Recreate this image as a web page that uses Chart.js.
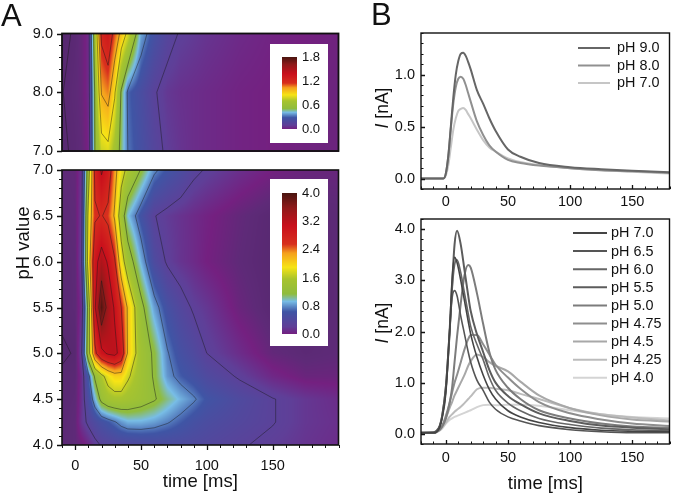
<!DOCTYPE html>
<html><head><meta charset="utf-8">
<script src="https://cdn.jsdelivr.net/npm/chart.js@4"></script>
<style>
html,body{margin:0;padding:0;background:#fff;width:673px;height:496px;overflow:hidden}
canvas{position:absolute}
.t{position:absolute;font-family:"Liberation Sans",Arial,sans-serif;color:#111;white-space:nowrap;z-index:5}
</style></head><body>
<div class="t" style="left:1px;top:-2px;font-size:31px">A</div>
<div class="t" style="left:371px;top:-3px;font-size:31px">B</div>
<div class="t" style="left:23px;top:243px;font-size:18.5px;transform:translate(-50%,-50%) rotate(-90deg)">pH value</div>
<div class="t" style="left:382px;top:108px;font-size:17.5px;transform:translate(-50%,-50%) rotate(-90deg)"><i>I</i> [nA]</div>
<div class="t" style="left:382px;top:323px;font-size:17.5px;transform:translate(-50%,-50%) rotate(-90deg)"><i>I</i> [nA]</div>
<canvas id="cA1" style="left:0;top:23px;width:345px;height:140px"></canvas>
<canvas id="cA2" style="left:0;top:160px;width:345px;height:336px"></canvas>
<canvas id="cB1" style="left:360px;top:23px;width:313px;height:190px"></canvas>
<canvas id="cB2" style="left:360px;top:209px;width:313px;height:287px"></canvas>
<script>
// ---------- heat map data ----------
const heatTimes=[-10,0,5,10,15,20,25,30,35,40,50,60,70,80,90,100,125,150,175,200];
const phUpper=[7.0,8.0,9.0];
const upper70=[.01,.03,.05,.10,.60,.82,.85,.72,.55,.40,.32,.24,.18,.15,.13,.12,.10,.09,.08,.07];
const upper80=[.018,.04,.06,.12,.62,1.05,1.10,.91,.58,.38,.30,.21,.16,.14,.13,.12,.10,.09,.08,.07];
const upper90=[0,.03,.06,.12,.72,1.25,1.34,1.15,1.00,.85,.46,.33,.24,.19,.17,.15,.12,.10,.09,.08];
const phLower=[4.0,4.25,4.5,4.75,5.0,5.5,6.0,6.5,7.0];
const lower400=[.07,.10,.15,.25,.38,.47,.50,.53,.55,.55,.58,.60,.60,.60,.58,.55,.47,.40,.33,.28];
const lower425=[.06,.10,.35,.50,.62,.72,.80,.88,.98,1.05,1.05,1.00,.92,.82,.72,.65,.55,.46,.35,.30];
const lower450=[.05,.08,.32,.65,1.05,1.45,1.60,1.65,1.65,1.60,1.50,1.38,1.20,1.05,.93,.78,.60,.46,.35,.28];
const lower475=[.04,.06,.30,.80,1.40,1.70,1.95,2.10,2.10,1.85,1.55,1.32,.98,.82,.72,.60,.42,.25,.15,.15];
const lower500=[.00,.03,.45,1.60,2.60,3.05,3.20,3.25,3.00,2.20,1.55,1.30,.92,.72,.60,.45,.28,.12,.07,.10];
const lower550=[.05,.08,.30,1.50,3.10,3.95,3.45,3.10,2.70,2.20,1.45,1.00,.72,.55,.42,.35,.15,.04,.04,.08];
const lower600=[.06,.08,.45,2.00,3.00,3.35,3.10,2.75,2.00,1.55,1.05,.62,.42,.33,.27,.20,.10,.03,.05,.08];
const lower650=[.08,.10,.40,1.90,2.65,2.72,2.60,2.20,1.55,1.10,.75,.46,.38,.32,.27,.22,.12,.04,.06,.08];
const lower700=[.10,.12,.35,1.60,2.80,3.20,2.95,2.40,1.95,1.70,1.33,.95,.78,.65,.50,.43,.30,.20,.15,.14];
const upperGrid=[upper70,upper80,upper90];
const lowerGrid=[lower400,lower425,lower450,lower475,lower500,lower550,lower600,lower650,lower700];
const upperLevels=[.02,.2,.4,.6,.89,1.04,1.21];
const lowerLevels=[.02,.45,.9,1.35,1.8,2.25,2.7,3.15,3.6];
const upperBarTicks=[0,.6,1.2,1.8];
const lowerBarTicks=[0,.8,1.6,2.4,3.2,4.0];
const cmapStops=[0,.025,.05,.10,.20,.27,.32,.42,.50,.595,.655,.78,.90,1];
const cmapColors=['#55286e','#5e2a78','#742080','#5f3f98','#3f55a5','#78bde6','#8fbc3e','#a8c42e','#f7e416','#f5a01e','#d8301e','#c9101c','#8f1a1a','#4a1510'];
// ---------- trace data ----------
const traceTimesTop=[-20,-5,-2,0,2,4,6,8,10,12,14,16,18,20,25,30,35,40,50,60,75,100,125,150,180];
const ph90=[0,0,0,.05,.22,.50,.78,1.00,1.13,1.20,1.21,1.18,1.12,1.05,.85,.72,.58,.46,.28,.21,.15,.11,.09,.075,.06];
const ph80=[0,0,0,.05,.22,.48,.72,.88,.96,.98,.96,.90,.82,.74,.55,.42,.32,.26,.18,.15,.125,.10,.08,.07,.055];
const ph70t=[0,0,0,.03,.13,.30,.47,.58,.65,.67,.68,.66,.62,.58,.47,.37,.30,.26,.195,.16,.13,.10,.08,.065,.05];
const topLabels=['pH 9.0','pH 8.0','pH 7.0'];
const topColors=['#666666','#909090','#c6c6c6'];
const traceTimes=[-20,-10,-8,-5,-3,0,3,5,7,9,12,15,18,20,25,30,35,40,50,60,75,100,125,150,180];
const t700=[.02,.02,.03,.12,.30,.80,2.00,3.00,3.45,3.35,3.00,2.60,2.20,1.95,1.50,1.15,.87,.68,.45,.33,.22,.12,.07,.05,.04];
const t650=[.02,.02,.03,.15,.35,.95,2.00,2.65,2.80,2.70,2.30,1.95,1.60,1.40,1.05,.85,.62,.48,.33,.25,.16,.08,.04,.02,.02];
const t600=[.02,.02,.04,.14,.32,.85,1.90,2.80,3.30,3.40,3.15,2.75,2.35,2.10,1.75,1.45,1.10,.85,.60,.45,.30,.18,.11,.08,.06];
const t550=[.02,.03,.05,.15,.35,.90,2.00,2.90,3.70,3.97,3.70,3.20,2.70,2.40,1.95,1.60,1.25,1.00,.74,.58,.40,.25,.16,.12,.09];
const t500=[.02,.02,.03,.08,.14,.30,.60,.90,1.40,1.90,2.55,3.10,3.30,3.25,2.75,2.15,1.60,1.25,.90,.68,.46,.30,.20,.14,.12];
const t475=[.02,.02,.03,.08,.15,.35,.60,.80,1.00,1.15,1.40,1.65,1.85,1.93,1.93,1.75,1.55,1.35,1.10,.88,.62,.40,.28,.20,.15];
const t450=[.02,.02,.03,.08,.14,.30,.50,.62,.75,.85,1.00,1.15,1.33,1.42,1.55,1.50,1.40,1.33,1.22,1.02,.75,.50,.36,.28,.24];
const t425=[.02,.02,.03,.07,.12,.22,.33,.38,.43,.47,.53,.60,.68,.73,.87,.90,.90,.88,.85,.78,.68,.50,.38,.32,.26];
const t400=[.02,.02,.03,.06,.10,.20,.27,.30,.33,.35,.38,.41,.44,.46,.52,.56,.57,.56,.57,.57,.55,.46,.38,.33,.30];
const lowLabels=['pH 7.0','pH 6.5','pH 6.0','pH 5.5','pH 5.0','pH 4.75','pH 4.5','pH 4.25','pH 4.0'];
const lowColors=['#444444','#555555','#666666','#5c5c5c','#7c7c7c','#8e8e8e','#a8a8a8','#bcbcbc','#d4d4d4'];
const lowWidths=[1.6,1.6,1.6,2,2,2,2,2,2];
// ---------- tick values ----------
const xTicksA=[0,50,100,150], xTicksB=[0,50,100,150];
const yTicksA1=[7,8,9], yTicksA2=[4,4.5,5,5.5,6,6.5,7];
const yTicksB1=[0,.5,1], yTicksB2=[0,1,2,3,4];

const FONT='"Liberation Sans",Arial,sans-serif';
Chart.defaults.font.family=FONT;
Chart.defaults.color='#111';
Chart.defaults.animation=false;
Chart.defaults.responsive=false;

function hex(c){return [1,3,5].map(i=>parseInt(c.substr(i,2),16));}
const cmapRGB=cmapColors.map(hex);
function cmap(n){
  n=Math.max(0,Math.min(1,n));
  let i=0; while(i<cmapStops.length-2&&n>cmapStops[i+1])i++;
  const f=(n-cmapStops[i])/(cmapStops[i+1]-cmapStops[i]);
  return cmapRGB[i].map((v,k)=>v+(cmapRGB[i+1][k]-v)*f);
}
function findCell(arr,v){let i=0;while(i<arr.length-2&&v>arr[i+1])i++;return i;}
function sample(grid,ys,x,y){
  const i=findCell(heatTimes,x), j=findCell(ys,y);
  const fx=Math.max(0,Math.min(1,(x-heatTimes[i])/(heatTimes[i+1]-heatTimes[i])));
  const fy=Math.max(0,Math.min(1,(y-ys[j])/(ys[j+1]-ys[j])));
  return (grid[j][i]*(1-fx)+grid[j][i+1]*fx)*(1-fy)+(grid[j+1][i]*(1-fx)+grid[j+1][i+1]*fx)*fy;
}
function heatPlugin(grid,ys,levels,vmax,bar,barTicks){return {id:'heat',beforeDatasetsDraw(chart){
  const {ctx,chartArea:a,scales:{x:sx,y:sy}}=chart;
  const w=Math.round(a.right-a.left),h=Math.round(a.bottom-a.top);
  const off=document.createElement('canvas');off.width=w;off.height=h;
  const oc=off.getContext('2d'),im=oc.createImageData(w,h);
  for(let py=0;py<h;py++){const vy=sy.getValueForPixel(a.top+py+.5);
    for(let px=0;px<w;px++){const vx=sx.getValueForPixel(a.left+px+.5);
      const c=cmap(sample(grid,ys,vx,vy)/vmax),o=(py*w+px)*4;
      im.data[o]=c[0];im.data[o+1]=c[1];im.data[o+2]=c[2];im.data[o+3]=255;}}
  oc.putImageData(im,0,0);
  ctx.save();ctx.drawImage(off,a.left,a.top);
  ctx.beginPath();ctx.rect(a.left,a.top,w,h);ctx.clip();
  ctx.strokeStyle='rgba(25,25,25,.75)';ctx.lineWidth=.6;
  for(const L of levels){ctx.beginPath();
    for(let j=0;j<ys.length-1;j++)for(let i=0;i<heatTimes.length-1;i++){
      const x0=heatTimes[i],x1=heatTimes[i+1],y0=ys[j],y1=ys[j+1];
      const v=[grid[j][i],grid[j][i+1],grid[j+1][i+1],grid[j+1][i]];
      const c=[[x0,y0],[x1,y0],[x1,y1],[x0,y1]],pts=[];
      for(let e=0;e<4;e++){const A=v[e],B=v[(e+1)%4];
        if((A<L)!==(B<L)){const f=(L-A)/(B-A),P=c[e],Q=c[(e+1)%4];
          pts.push([sx.getPixelForValue(P[0]+(Q[0]-P[0])*f),sy.getPixelForValue(P[1]+(Q[1]-P[1])*f)]);}}
      for(let k=0;k+1<pts.length;k+=2){ctx.moveTo(pts[k][0],pts[k][1]);ctx.lineTo(pts[k+1][0],pts[k+1][1]);}
    }
    ctx.stroke();}
  ctx.restore();
  // colour key
  ctx.save();ctx.fillStyle='#fff';ctx.fillRect(bar.bx,bar.by,bar.bw,bar.bh);
  for(let y=bar.top;y<bar.bottom;y++){const c=cmap(.05+.95*(bar.bottom-y-.5)/(bar.bottom-bar.top));
    ctx.fillStyle=`rgb(${c[0]|0},${c[1]|0},${c[2]|0})`;ctx.fillRect(bar.left,y,bar.width,1);}
  ctx.fillStyle='#111';ctx.font='13px '+FONT;ctx.textAlign='left';ctx.textBaseline='middle';
  for(const v of barTicks){const y=bar.bottom-(bar.bottom-bar.top)*v/vmax;
    ctx.fillText(v.toFixed(1),bar.left+bar.width+5,y+.5);}
  ctx.restore();
}};}
function framePlugin(o){return {id:'frame',afterDatasetsDraw(chart){
  const {ctx,chartArea:a,scales:{x:sx,y:sy}}=chart;
  ctx.save();ctx.strokeStyle='#111';
  const d=o.inward?1:-1;
  function yt(v,l){const p=Math.round(sy.getPixelForValue(v))+.5;ctx.moveTo(a.left,p);ctx.lineTo(a.left+d*l,p);}
  function xt(v,l){const p=Math.round(sx.getPixelForValue(v))+.5;ctx.moveTo(p,a.bottom);ctx.lineTo(p,a.bottom-d*l);}
  ctx.lineWidth=1;ctx.beginPath();
  for(let v=sy.min;v<=sy.max+1e-6;v+=o.yMinor)yt(v,o.minorLen);
  if(o.xMinor)for(let v=Math.ceil(sx.min/o.xMinor)*o.xMinor;v<=sx.max+1e-6;v+=o.xMinor)xt(v,o.minorLen);
  ctx.stroke();
  ctx.lineWidth=1.3;ctx.beginPath();
  o.yMajor.forEach(v=>yt(v,o.majorLen));
  if(o.xMajor)o.xMajor.forEach(v=>xt(v,o.majorLen));
  ctx.stroke();
  ctx.lineWidth=o.frame;ctx.strokeRect(a.left,a.top,a.right-a.left,a.bottom-a.top);
  if(o.legend){ctx.font='14.4px '+FONT;ctx.textBaseline='middle';ctx.textAlign='left';
    chart.data.datasets.forEach((ds,i)=>{const y=o.legend.y+i*o.legend.dy;
      ctx.strokeStyle=ds.borderColor;ctx.lineWidth=2;ctx.beginPath();ctx.moveTo(o.legend.x0,y);ctx.lineTo(o.legend.x1,y);ctx.stroke();
      ctx.fillStyle='#111';ctx.fillText(ds.label,o.legend.tx,y+.5);});}
  ctx.restore();
}};}
function axis(o){
  return {type:'linear',min:o.min,max:o.max,display:o.display!==false,
    grid:{display:false,drawTicks:false,tickLength:0},border:{display:false},
    title:o.title?{display:true,text:o.title,color:'#111',font:{size:18.5},padding:o.titlePad}:{display:false},
    afterBuildTicks(s){s.ticks=o.ticks.map(v=>({value:v}));},
    afterFit(s){if(o.w)s.width=o.w;if(o.h)s.height=o.h;s.paddingTop=s.paddingBottom=s.paddingLeft=s.paddingRight=0;},
    ticks:{autoSkip:false,maxRotation:0,padding:o.pad,color:'#111',font:{size:14.5},callback:v=>o.fmt?v.toFixed(1):String(v)}};
}
function pairs(xs,ys){return xs.map((x,i)=>({x,y:ys[i]}));}
function make(id,w,h,datasets,x,y,padding,plugins){
  const c=document.getElementById(id);c.width=w;c.height=h;
  return new Chart(c,{type:'scatter',data:{datasets},options:{layout:{padding},
    plugins:{legend:{display:false},title:{display:false},tooltip:{enabled:false}},
    scales:{x:axis(x),y:axis(y)}},plugins});
}
const heatSets=(g,ys)=>g.map((r,j)=>({label:'pH '+ys[j],data:r.map((v,i)=>({x:heatTimes[i],y:ys[j]})),pointRadius:0,showLine:false}));
const line=(label,xs,ys,color,w)=>({label,data:pairs(xs,ys),borderColor:color,backgroundColor:color,borderWidth:w,showLine:true,pointRadius:0,cubicInterpolationMode:'monotone'});

make('cA1',345,140,heatSets(upperGrid,phUpper),
  {min:-10,max:200,ticks:xTicksA,display:false},
  {min:7,max:9,ticks:yTicksA1,fmt:true,w:62,pad:9},
  {left:0,right:6.5,top:10.5,bottom:12},
  [heatPlugin(upperGrid,phUpper,upperLevels,1.8,{bx:270-0,by:44-23,bw:58,bh:99,left:282,width:15,top:57-23,bottom:129-23},upperBarTicks),
   framePlugin({yMinor:.2,yMajor:yTicksA1,majorLen:5,minorLen:3,inward:false,frame:1.8})]);
make('cA2',345,336,heatSets(lowerGrid,phLower),
  {min:-10,max:200,ticks:xTicksA,h:51,pad:12,title:'time [ms]',titlePad:{top:0,bottom:3}},
  {min:4,max:7,ticks:yTicksA2,fmt:true,w:62,pad:9},
  {left:0,right:6.5,top:10,bottom:0},
  [heatPlugin(lowerGrid,phLower,lowerLevels,4,{bx:270,by:179-160,bw:58,bh:167,left:282,width:15,top:193-160,bottom:334-160},lowerBarTicks),
   framePlugin({yMinor:.1,yMajor:yTicksA2,xMinor:10,xMajor:xTicksA,majorLen:5,minorLen:3,inward:false,frame:1.6})]);
make('cB1',313,190,[
  line(topLabels[0],traceTimesTop,ph90,topColors[0],2),
  line(topLabels[1],traceTimesTop,ph80,topColors[1],2),
  line(topLabels[2],traceTimesTop,ph70t,topColors[2],2)],
  {min:-20,max:180,ticks:xTicksB,h:24,pad:4},
  {min:-.1,max:1.4,ticks:yTicksB1,fmt:true,w:61,pad:6},
  {left:0,right:3.5,top:10,bottom:0},
  [framePlugin({yMinor:.1,yMajor:yTicksB1,xMinor:10,xMajor:xTicksB,majorLen:4,minorLen:2.5,inward:true,frame:1.4,legend:{x0:578-360,x1:610-360,tx:617-360,y:48-23,dy:17.5}})]);
const lowSeries=[t700,t650,t600,t550,t500,t475,t450,t425,t400];
make('cB2',313,287,lowSeries.map((s,i)=>line(lowLabels[i],traceTimes,s,lowColors[i],lowWidths[i])),
  {min:-20,max:180,ticks:xTicksB,h:52,pad:5,title:'time [ms]',titlePad:{top:0,bottom:1}},
  {min:-.2,max:4.2,ticks:yTicksB2,fmt:true,w:61,pad:6},
  {left:0,right:3.5,top:10,bottom:0},
  [framePlugin({yMinor:.2,yMajor:yTicksB2,xMinor:10,xMajor:xTicksB,majorLen:4,minorLen:2.5,inward:true,frame:1.4,legend:{x0:573-360,x1:607-360,tx:611-360,y:233-209,dy:18.1}})]);
</script>
</body></html>
